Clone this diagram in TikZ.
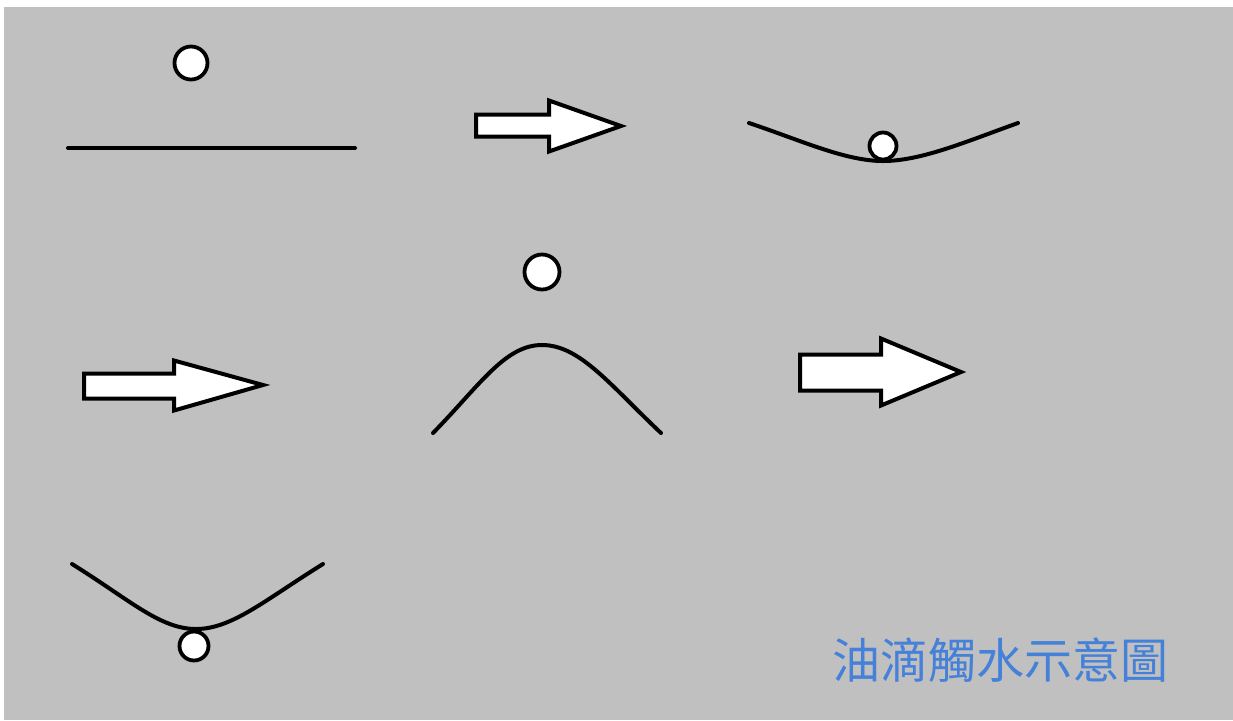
\documentclass[tikz,border=0pt]{standalone}
\usepackage{fontspec}
\newfontfamily\cjk{Noto Sans CJK TC}
\usetikzlibrary{positioning}
\definecolor{cqcqcq}{rgb}{0.753,0.753,0.753}
\definecolor{qqqqqq}{rgb}{0,0,0}
\definecolor{4a7fdq}{rgb}{0.27,0.50,0.85}
\tikzset{
	drop/.style={circle,draw=qqqqqq,fill=white,line width=1.9pt,inner sep=0pt},
	film/.style={color=qqqqqq,line width=2pt,line cap=round},
	blockarrow/.style={draw=qqqqqq,fill=white,line width=2pt,line join=miter}
}
\begin{document}
\begin{tikzpicture}[line cap=round,line join=round,x=0.5pt,y=-0.5pt]
	\useasboundingbox (0,0) rectangle (1233,720);
	\fill[white] (0,0) rectangle (1233,720);
	\fill[cqcqcq] (4,7) rectangle (1233,720);
	% flat film, drop above it
	\draw[film] (68,148)-- (355,148);
	\node[drop,minimum size=16.5pt] (drop1) at (191,63) {};
	\draw[blockarrow] (476,114.5) -- (549,114.5) -- (549,100.5) -- (621,126) -- (549,151.5) -- (549,136.5) -- (476,136.5) -- cycle;
	% film bent down, drop sitting on it
	\draw[film] (749,123) .. controls (800,140) and (845,161) .. (883,161) .. controls (921,161) and (965,142) .. (1018,123);
	\node[drop,minimum size=13.5pt] (drop2) at (883,146) {};
	% second row
	\draw[blockarrow] (84,373.5) -- (174,373.5) -- (174,360.5) -- (263,385) -- (174,410.5) -- (174,398.5) -- (84,398.5) -- cycle;
	\draw[film] (433,433) .. controls (480,385) and (505,345) .. (542,345) .. controls (580,345) and (610,385) .. (661,433);
	\node[drop,minimum size=17.5pt] (drop3) at (542,272) {};
	\draw[blockarrow] (800,354.5) -- (881,354.5) -- (881,338.5) -- (961,372) -- (881,405.5) -- (881,390.5) -- (800,390.5) -- cycle;
	% film bent down, drop hanging below
	\draw[film] (72,564) .. controls (130,600) and (160,629) .. (196,629) .. controls (232,629) and (265,600) .. (323,564);
	\node[drop,minimum size=14.5pt] (drop4) at (194,646) {};
	\node[text=4a7fdq,inner sep=0pt] (title) at (1000,660) {\cjk\fontsize{24pt}{24pt}\selectfont 油滴觸水示意圖};
\end{tikzpicture}
\end{document}
